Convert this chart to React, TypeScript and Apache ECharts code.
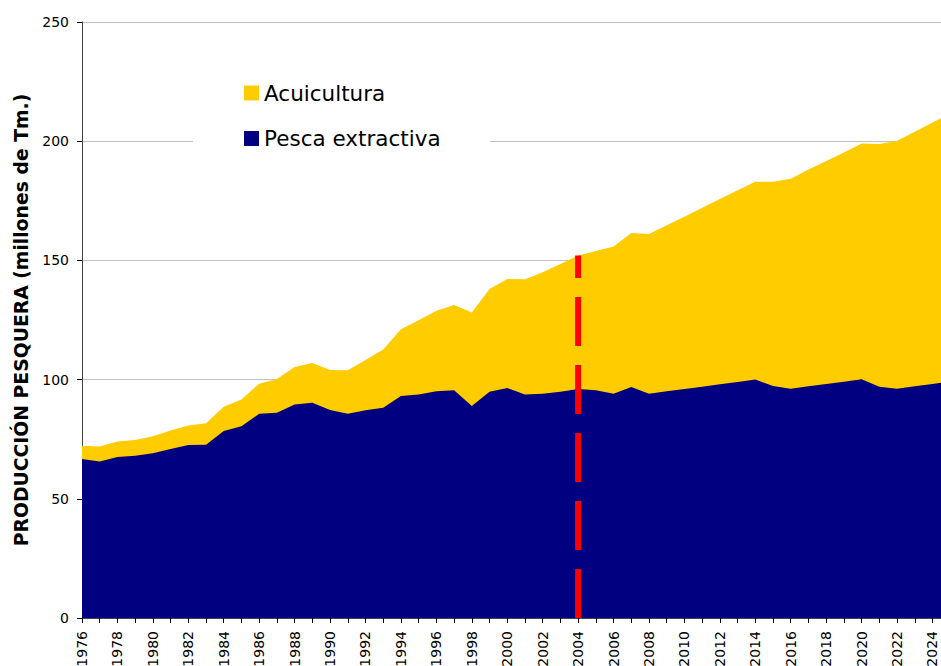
import React, { useEffect, useRef } from "react";
import * as echarts from "echarts";

const years: number[] = [
  1976, 1977, 1978, 1979, 1980, 1981, 1982, 1983, 1984, 1985,
  1986, 1987, 1988, 1989, 1990, 1991, 1992, 1993, 1994, 1995,
  1996, 1997, 1998, 1999, 2000, 2001, 2002, 2003, 2004, 2005,
  2006, 2007, 2008, 2009, 2010, 2011, 2012, 2013, 2014, 2015,
  2016, 2017, 2018, 2019, 2020, 2021, 2022, 2023, 2024, 2025,
];

const pescaExtractiva: number[] = [
  66.7, 65.6, 67.5, 68.1, 69.1, 70.9, 72.6, 72.7, 78.4, 80.4,
  85.7, 86.1, 89.6, 90.3, 87.2, 85.7, 87.1, 88.2, 93.1, 93.7,
  95.1, 95.5, 88.9, 94.9, 96.5, 93.7, 94.1, 94.9, 96.1, 95.5,
  94.1, 96.9, 94.1, 95.1, 96.1, 97.0, 98.0, 99.0, 100.0, 97.3,
  96.2, 97.2, 98.2, 99.1, 100.1, 97.0, 96.2, 97.2, 98.2, 99.2,
];

const acuicultura: number[] = [
  5.6, 6.3, 6.5, 6.6, 7.1, 7.7, 8.1, 9.0, 10.2, 11.3,
  12.6, 14.2, 15.7, 16.7, 16.8, 18.2, 21.1, 24.4, 28.0, 31.2,
  33.8, 35.8, 39.2, 43.1, 45.7, 48.4, 50.9, 53.6, 56.0, 58.4,
  61.7, 64.6, 67.0, 69.6, 72.2, 75.1, 77.8, 80.4, 83.0, 85.7,
  88.1, 90.9, 93.5, 96.2, 98.9, 101.8, 104.0, 106.8, 109.6, 112.4,
];

const markerYear = 2004;
const markerTop = 152.1;

const FONT = "DejaVu Sans";
const NAVY = "#000080";
const YELLOW = "#FFCC00";

export default function App() {
  const ref = useRef<HTMLDivElement>(null);

  useEffect(() => {
    if (!ref.current) return;
    const chart = echarts.init(ref.current, undefined, { renderer: "svg" });
    const pescaData = years.map((y, i) => [y, pescaExtractiva[i]]);
    // stacked top (pesca + acuicultura), drawn behind the pesca area
    const acuiStackData = years.map((y, i) => [y, pescaExtractiva[i] + acuicultura[i]]);

    chart.setOption({
      animation: false,
      backgroundColor: "#ffffff",
      grid: {
        left: 82,
        right: 0,
        top: 22,
        bottom: 48,
        containLabel: false,
        outerBoundsMode: "none",
      },
      graphic: [
        {
          type: "rect",
          z: 1,
          shape: { x: 193, y: 60, width: 297, height: 105 },
          style: { fill: "#ffffff" },
        },
      ],
      legend: {
        orient: "vertical",
        left: 239,
        top: 77,
        itemWidth: 15,
        itemHeight: 15,
        itemGap: 23.5,
        icon: "rect",
        data: ["Acuicultura", "Pesca extractiva"],
        textStyle: { fontFamily: FONT, fontSize: 21.5, color: "#000" },
        z: 10,
      },
      xAxis: {
        type: "value",
        min: 1976,
        max: 2024.48,
        interval: 1,
        splitLine: { show: false },
        axisLine: { show: true, lineStyle: { color: "#444", width: 1 } },
        axisTick: { show: true, length: 5, lineStyle: { color: "#000" } },
        axisLabel: {
          rotate: 90,
          margin: 13,
          fontFamily: FONT,
          fontSize: 14,
          color: "#000",
          showMaxLabel: false,
          formatter: (v: number) =>
            Number.isInteger(v) && v % 2 === 0 ? String(v) : "",
        },
      },
      yAxis: {
        type: "value",
        min: 0,
        max: 250,
        interval: 50,
        name: "PRODUCCIÓN PESQUERA (millones de Tm.)",
        nameLocation: "middle",
        nameGap: 50,
        nameTextStyle: {
          fontFamily: FONT,
          fontSize: 18.8,
          fontWeight: "bold",
          color: "#000",
        },
        axisLine: { show: true, lineStyle: { color: "#444", width: 1 } },
        axisTick: { show: true, length: 5, lineStyle: { color: "#000" } },
        splitLine: { show: true, lineStyle: { color: "#c0c0c0", width: 1 } },
        axisLabel: {
          margin: 13,
          fontFamily: FONT,
          fontSize: 14,
          color: "#000",
        },
      },
      series: [
        {
          name: "Acuicultura",
          type: "line",
          data: acuiStackData,
          symbol: "none",
          lineStyle: { width: 0 },
          areaStyle: { color: YELLOW, opacity: 1 },
          itemStyle: { color: YELLOW },
          z: 2,
        },
        {
          name: "Pesca extractiva",
          type: "line",
          data: pescaData,
          symbol: "none",
          lineStyle: { width: 0 },
          areaStyle: { color: NAVY, opacity: 1 },
          itemStyle: { color: NAVY },
          z: 3,
        },
        {
          name: "marker",
          type: "line",
          data: [
            [markerYear, 0],
            [markerYear, markerTop],
          ],
          symbol: "none",
          lineStyle: { color: "#FF0000", width: 6, type: [49, 19], cap: "butt" },
          z: 5,
          silent: true,
        },
      ],
    });

    return () => chart.dispose();
  }, []);

  return (
    <div
      ref={ref}
      style={{ position: "absolute", left: 0, top: 0, width: 941, height: 666 }}
    />
  );
}
